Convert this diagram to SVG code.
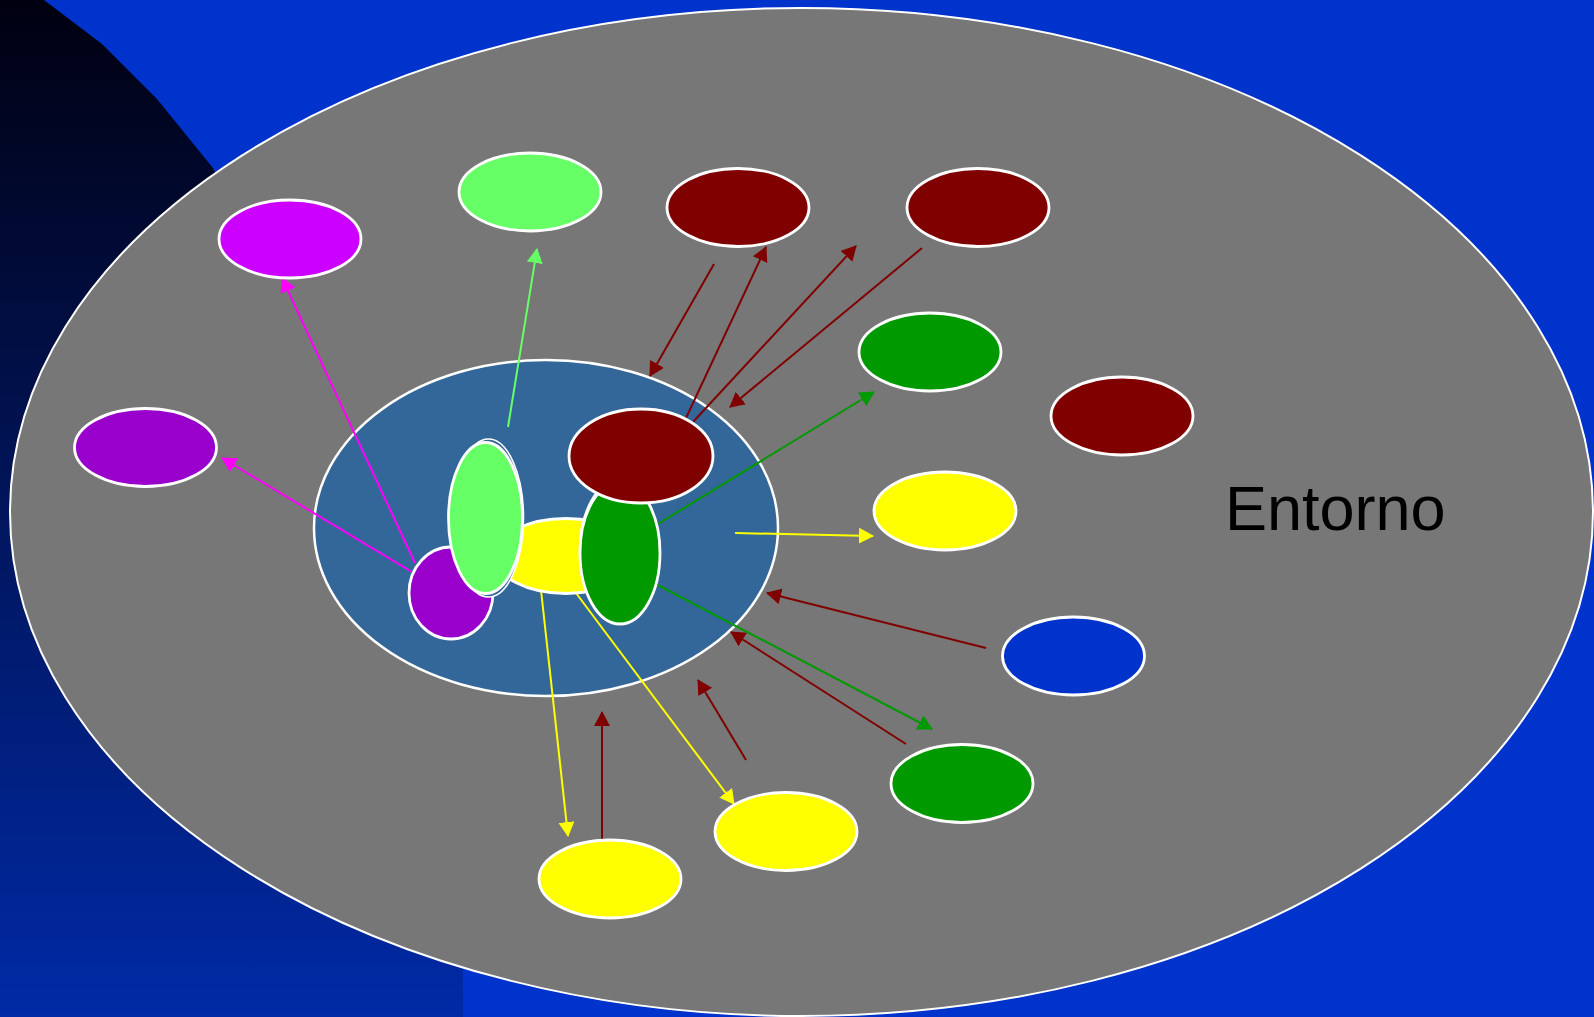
<svg xmlns="http://www.w3.org/2000/svg" width="1594" height="1017" viewBox="0 0 1594 1017">
  <defs>
    <linearGradient id="shade" gradientUnits="userSpaceOnUse" x1="0" y1="0" x2="0" y2="1017">
      <stop offset="0" stop-color="#000010"/>
      <stop offset="1" stop-color="#002AA6"/>
    </linearGradient>
    <marker id="ah-maroon" markerUnits="userSpaceOnUse" markerWidth="16" markerHeight="16" refX="14" refY="8" orient="auto"><path d="M0,0 L15,8 L0,16 z" fill="#800000"/></marker>
    <marker id="ah-magenta" markerUnits="userSpaceOnUse" markerWidth="16" markerHeight="16" refX="14" refY="8" orient="auto"><path d="M0,0 L15,8 L0,16 z" fill="#FF00FF"/></marker>
    <marker id="ah-lime" markerUnits="userSpaceOnUse" markerWidth="16" markerHeight="16" refX="14" refY="8" orient="auto"><path d="M0,0 L15,8 L0,16 z" fill="#66FF66"/></marker>
    <marker id="ah-green" markerUnits="userSpaceOnUse" markerWidth="16" markerHeight="16" refX="14" refY="8" orient="auto"><path d="M0,0 L15,8 L0,16 z" fill="#009900"/></marker>
    <marker id="ah-yellow" markerUnits="userSpaceOnUse" markerWidth="16" markerHeight="16" refX="14" refY="8" orient="auto"><path d="M0,0 L15,8 L0,16 z" fill="#FFFF00"/></marker>
  </defs>
  <style>
    .node { stroke: #FFFFFF; stroke-width: 2.8; }
    .maroon { fill: #800000; }
    .yellow { fill: #FFFF00; }
    .green { fill: #009900; }
    .lime { fill: #66FF66; }
    .violet { fill: #9900CC; }
    .magenta { fill: #CC00FF; }
    .blue { fill: #0033CC; }
    .ghost { fill: #336699; stroke: #FFFFFF; stroke-width: 1.6; }
    #connectors line { stroke-width: 2; fill: none; }
    .c-maroon { stroke: #800000; marker-end: url(#ah-maroon); }
    .c-magenta { stroke: #FF00FF; marker-end: url(#ah-magenta); }
    .c-lime { stroke: #66FF66; marker-end: url(#ah-lime); }
    .c-green { stroke: #009900; marker-end: url(#ah-green); }
    .c-yellow { stroke: #FFFF00; marker-end: url(#ah-yellow); }
    .label { font-family: "Liberation Sans", Arial, sans-serif; font-size: 63px; fill: #000000; }
  </style>

  <!-- backdrop -->
  <rect x="0" y="0" width="1594" height="1017" fill="#0033CC"/>
  <polygon points="0,0 44,0 102,44 157,99 213,168 330,400 420,650 463,900 463,1017 0,1017" fill="url(#shade)"/>

  <!-- environment -->
  <g id="entorno">
    <ellipse cx="801.5" cy="512" rx="791.5" ry="504" fill="#777777" stroke="#FFFFFF" stroke-width="2"/>
    <text class="label" x="1225" y="530">Entorno</text>
  </g>

  <!-- system boundary -->
  <g id="sistema">
    <ellipse cx="546" cy="528" rx="232" ry="168" fill="#336699" stroke="#FFFFFF" stroke-width="2.5"/>
  </g>

  <!-- connectors -->
  <g id="connectors">
    <line class="c-magenta" x1="415" y1="563" x2="282" y2="278"/>
    <line class="c-magenta" x1="412" y1="572" x2="222" y2="458"/>
    <line class="c-lime" x1="508" y1="427" x2="537" y2="249"/>
    <line class="c-maroon" x1="714" y1="264" x2="650" y2="376"/>
    <line class="c-maroon" x1="686" y1="418" x2="766" y2="247"/>
    <line class="c-maroon" x1="693" y1="422" x2="856" y2="246"/>
    <line class="c-maroon" x1="922" y1="248" x2="730" y2="407"/>
    <line class="c-maroon" x1="986" y1="648" x2="767" y2="593"/>
    <line class="c-maroon" x1="906" y1="744" x2="731" y2="632"/>
    <line class="c-maroon" x1="746" y1="760" x2="698" y2="680"/>
    <line class="c-maroon" x1="602" y1="839" x2="602" y2="712"/>
    <line class="c-green" x1="658" y1="524" x2="874" y2="392"/>
    <line class="c-green" x1="654" y1="583" x2="932" y2="729"/>
    <line class="c-yellow" x1="735" y1="533" x2="873" y2="536"/>
    <line class="c-yellow" x1="541" y1="590" x2="568" y2="836"/>
    <line class="c-yellow" x1="576" y1="593" x2="734" y2="804"/>
  </g>

  <!-- inner nodes -->
  <g id="in-violet"><ellipse class="node violet" cx="451" cy="593" rx="42" ry="46"/></g>
  <g id="in-yellow"><ellipse class="node yellow" cx="566" cy="556" rx="71" ry="37.5"/></g>
  <g id="in-lime">
    <ellipse class="ghost" cx="488.5" cy="518" rx="35" ry="79"/>
    <ellipse class="node lime" cx="485.5" cy="518" rx="37" ry="75.5"/>
  </g>
  <g id="in-green">
    <ellipse class="ghost" cx="618.5" cy="551" rx="39" ry="71"/>
    <ellipse class="node green" cx="620" cy="553" rx="40" ry="71"/>
  </g>
  <g id="in-maroon"><ellipse class="node maroon" cx="641" cy="456" rx="72" ry="47"/></g>

  <!-- outer nodes -->
  <g id="out-magenta"><ellipse class="node magenta" cx="290" cy="239" rx="71" ry="39"/></g>
  <g id="out-lime"><ellipse class="node lime" cx="530" cy="192" rx="71" ry="39"/></g>
  <g id="out-maroon-1"><ellipse class="node maroon" cx="738" cy="207.5" rx="71" ry="39"/></g>
  <g id="out-maroon-2"><ellipse class="node maroon" cx="978" cy="207.5" rx="71" ry="39"/></g>
  <g id="out-green-1"><ellipse class="node green" cx="930" cy="352" rx="71" ry="39"/></g>
  <g id="out-maroon-3"><ellipse class="node maroon" cx="1122" cy="416" rx="71" ry="39"/></g>
  <g id="out-violet"><ellipse class="node violet" cx="145.5" cy="447.5" rx="71" ry="39"/></g>
  <g id="out-yellow-1"><ellipse class="node yellow" cx="945" cy="511" rx="71" ry="39"/></g>
  <g id="out-blue"><ellipse class="node blue" cx="1073.5" cy="656" rx="71" ry="39"/></g>
  <g id="out-green-2"><ellipse class="node green" cx="962" cy="783.5" rx="71" ry="39"/></g>
  <g id="out-yellow-2"><ellipse class="node yellow" cx="786" cy="831.5" rx="71" ry="39"/></g>
  <g id="out-yellow-3"><ellipse class="node yellow" cx="610" cy="879" rx="71" ry="39"/></g>
</svg>
